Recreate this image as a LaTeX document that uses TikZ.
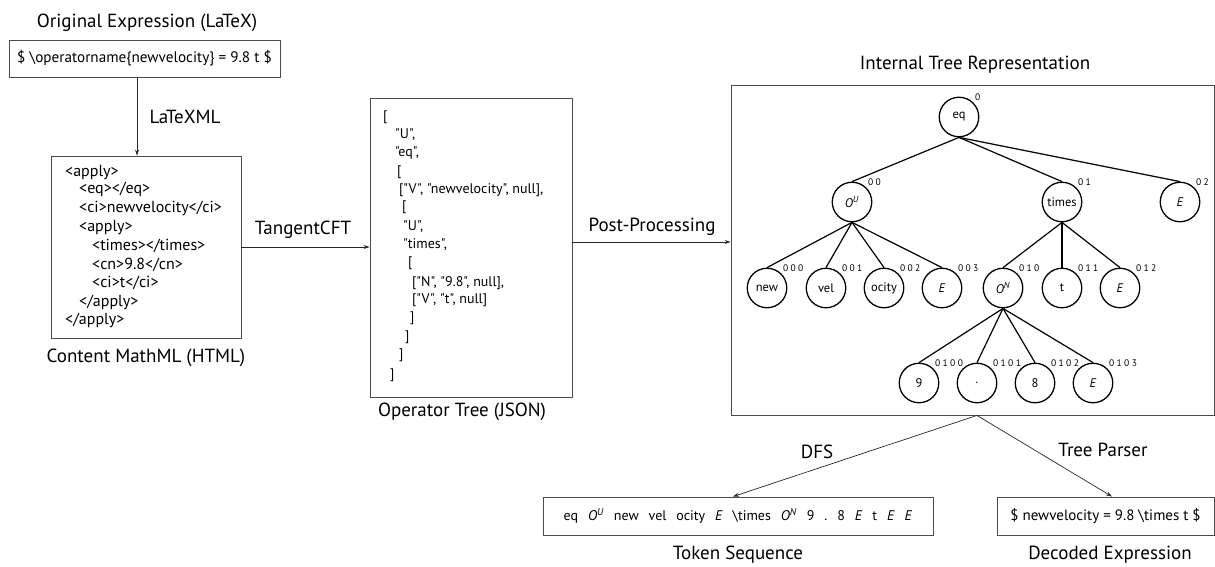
\documentclass[tikz,border=0pt]{standalone}
\usepackage{fontspec}
\setmainfont{PT Sans}[Ligatures=TeXOff]
\usetikzlibrary{arrows.meta}
\newcommand{\tgap}{\hskip 9.9pt}
\newcommand{\lk}{\kern2.4pt}
\newcommand{\Osup}[1]{\textit{O}\textsuperscript{\textit{#1}}}
\begin{document}
\begin{tikzpicture}[x=1pt,y=-1pt,
  box/.style={draw=black!70, line width=0.9pt, inner sep=0pt},
  ttl/.style={font=\fontsize{19}{22}\selectfont, inner sep=0pt},
  code/.style={font=\fontsize{16}{18}\selectfont, anchor=west, inner sep=0pt, text height=11pt, text depth=3pt},
  json/.style={font=\fontsize{14}{16}\selectfont, anchor=west, inner sep=0pt, text height=10pt, text depth=2.5pt},
  arr/.style={-{Stealth[length=6pt,width=4pt]}, line width=0.7pt, draw=black!85},
  tn/.style={circle, draw, line width=1.3pt, minimum size=39.5pt, inner sep=0pt, font=\fontsize{12.5}{14}\selectfont},
  edge/.style={line width=1.2pt},
  lbl/.style={font=\fontsize{9.5}{10}\selectfont, inner sep=0pt},
  label distance=2pt
]
\useasboundingbox (0,0) rectangle (1215,567);

% ---- left column
\node[ttl] (t1) at (147,23) {Original Expression (LaTeX)};
\node[box, minimum width=271pt, minimum height=37pt, font=\fontsize{15.2}{17}\selectfont] (b1) at (144.5,58.5)
  {\$ \textbackslash operatorname\{newvelocity\} = 9.8 t \$};
\node[ttl] (lx) at (185,117) {LaTeXML};
\node[box, minimum width=190pt, minimum height=182pt] (b2) at (146,247) {};
\node[code] (m1) at (65,172) {<apply>};
\node[code] (m2) at (79,189) {<eq></eq>};
\node[code] (m3) at (79,208) {<ci>newvelocity</ci>};
\node[code] (m4) at (79,227) {<apply>};
\node[code] (m5) at (92,246) {<times></times>};
\node[code] (m6) at (92,265) {<cn>9.8</cn>};
\node[code] (m7) at (92,283) {<ci>t</ci>};
\node[code] (m8) at (79,302) {</apply>};
\node[code] (m9) at (65,320) {</apply>};
\node[ttl] (t2) at (146,358) {Content MathML (HTML)};

% ---- JSON column
\node[ttl] (tc) at (303,230) {TangentCFT};
\node[box, minimum width=202pt, minimum height=299pt] (b3) at (471,247.5) {};
\node[json] (j1) at (383,117) {[};
\node[json] (j2) at (395,135) {"U",};
\node[json] (j3) at (395,153) {"eq",};
\node[json] (j4) at (397,172) {[};
\node[json] (j5) at (399,190) {["V", "newvelocity", null],};
\node[json] (j6) at (402,207) {[};
\node[json] (j7) at (403,227) {"U",};
\node[json] (j8) at (403,245) {"times",};
\node[json] (j9) at (408,263) {[};
\node[json] (j10) at (412,283) {["N", "9.8", null],};
\node[json] (j11) at (412,300) {["V", "t", null]};
\node[json] (j12) at (410,318) {]};
\node[json] (j13) at (405,337) {]};
\node[json] (j14) at (399,355) {]};
\node[json] (j15) at (390,375) {]};
\node[ttl] (t3) at (462,412) {Operator Tree (JSON)};
\node[ttl] (pp) at (652,227) {Post-Processing};

% ---- tree
\node[ttl] (t4) at (975,65) {Internal Tree Representation};
\node[box, minimum width=483pt, minimum height=330pt] (tb) at (972.5,250) {};

\node[tn, label={[lbl]45:0}] (eq) at (959,117) {eq};
\node[tn, label={[lbl]45:0\lk0}] (ou) at (852,202) {\Osup{U}};
\node[tn, label={[lbl]45:0\lk1}] (times) at (1062,202) {times};
\node[tn, label={[lbl]45:0\lk2}] (e02) at (1180,202) {\textit{E}};
\node[tn, label={[lbl]45:0\lk0\lk0}] (new) at (767,288) {new};
\node[tn, label={[lbl]45:0\lk0\lk1}] (vel) at (826,288) {vel};
\node[tn, label={[lbl]45:0\lk0\lk2}] (ocity) at (884,288) {ocity};
\node[tn, label={[lbl]45:0\lk0\lk3}] (e003) at (942,288) {\textit{E}};
\node[tn, label={[lbl]45:0\lk1\lk0}] (on) at (1003,288) {\Osup{N}};
\node[tn, label={[lbl]45:0\lk1\lk1}] (t) at (1062,288) {t};
\node[tn, label={[lbl]45:0\lk1\lk2}] (e012) at (1120,288) {\textit{E}};
\node[tn, label={[lbl]45:0\lk1\lk0\lk0}] (n9) at (919,383) {9};
\node[tn, label={[lbl]45:0\lk1\lk0\lk1}] (dot) at (977,383) {.};
\node[tn, label={[lbl]45:0\lk1\lk0\lk2}] (n8) at (1035,383) {8};
\node[tn, label={[lbl]45:0\lk1\lk0\lk3}] (e0103) at (1093,383) {\textit{E}};

\foreach \c in {ou,times,e02} \draw[edge] (eq.south) -- (\c.north);
\foreach \c in {new,vel,ocity,e003} \draw[edge] (ou.south) -- (\c.north);
\foreach \c in {on,t,e012} \draw[edge] (times.south) -- (\c.north);
\foreach \c in {n9,dot,n8,e0103} \draw[edge] (on.south) -- (\c.north);

% ---- bottom
\node[box, minimum width=390pt, minimum height=38pt, font=\fontsize{14}{16}\selectfont] (tok) at (738,516)
  {eq\tgap\Osup{U}\tgap new\tgap vel\tgap ocity\tgap\textit{E}\tgap\textbackslash times\tgap\Osup{N}\tgap 9\tgap .\tgap 8\tgap\textit{E}\tgap t\tgap\textit{E}\tgap\textit{E}};
\node[box, minimum width=217pt, minimum height=38pt, font=\fontsize{15}{17}\selectfont] (dec) at (1105.5,516)
  {\$ newvelocity = 9.8 \textbackslash times t \$};
\node[ttl] (dfs) at (817,452) {DFS};
\node[ttl] (tp) at (1103,450) {Tree Parser};
\node[ttl] (t5) at (738,555) {Token Sequence};
\node[ttl] (t6) at (1110,555) {Decoded Expression};

% ---- arrows
\coordinate (a1) at ([xshift=-7.5pt]b1.south);
\draw[arr] (a1) -- (a1 |- b2.north);
\draw[arr] (b2.east) -- (b3.west |- b2.east);
\coordinate (a3) at ([yshift=5.5pt]b3.east);
\draw[arr] (a3) -- (tb.west |- a3);
\coordinate (tbs) at ([xshift=4.5pt]tb.south);
\draw[arr] (tbs) -- ([xshift=-5pt]tok.north);
\draw[arr] (tbs) -- ([xshift=6.5pt]dec.north);
\end{tikzpicture}
\end{document}
